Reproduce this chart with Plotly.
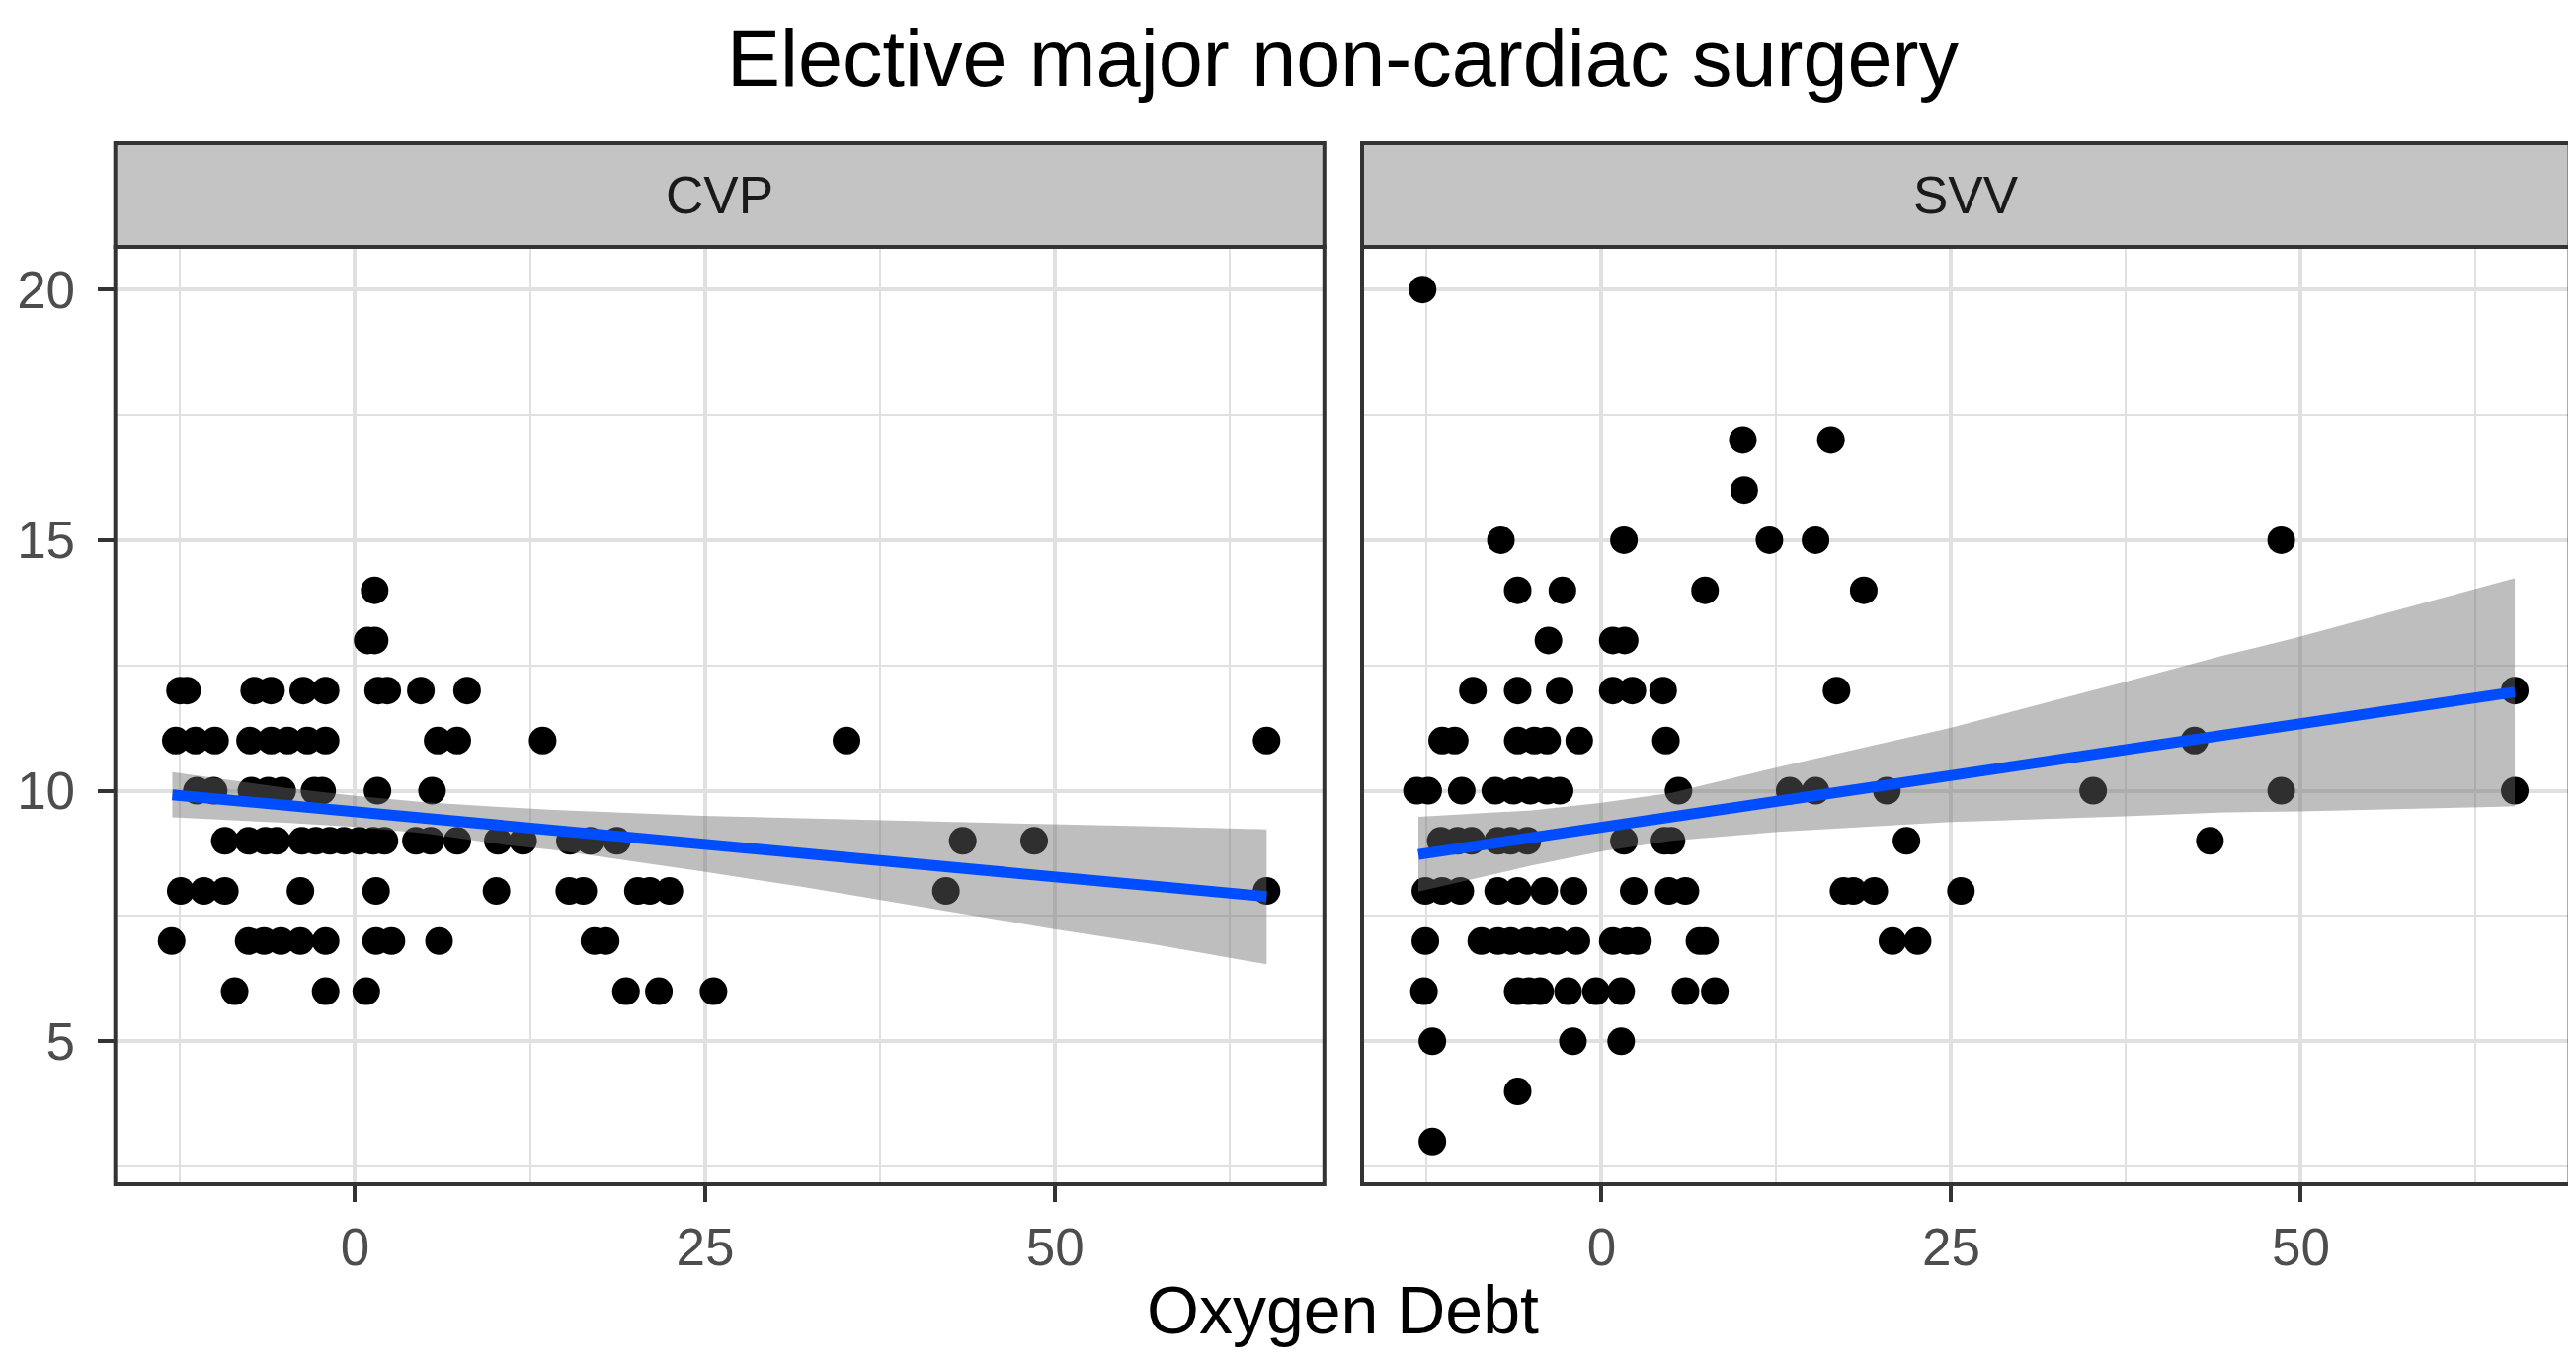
import numpy as np
import plotly.graph_objects as go

# ---------------- data ----------------
title_text = "Elective major non-cardiac surgery"
x_title = "Oxygen Debt"
facet_names = ["CVP", "SVV"]
x_ticks = [0, 25, 50]
y_ticks = [5, 10, 15, 20]

cvp_x = [1.4,
         0.9, 1.4,
         -12.5, -12.0, -7.2, -6.0, -3.7, -2.1, 1.65, 2.3, 4.7, 8.0,
         -12.8, -11.4, -10.0, -7.5, -6.0, -4.8, -3.4, -2.1, 5.9, 7.3, 13.4, 35.1, 65.1,
         -11.3, -10.1, -7.4, -6.2, -5.2, -2.9, -2.35, 1.6, 5.5,
         -9.3, -7.6, -6.4, -5.6, -3.8, -2.8, -1.8, -0.8, 0.3, 1.3, 2.1, 4.35, 5.4, 7.3,
         10.2, 12.0, 15.35, 16.8, 18.7, 43.4, 48.5,
         -12.45, -10.8, -9.3, -3.9, 1.5, 10.1, 15.3, 16.3, 20.2, 21.05, 22.45, 42.2, 65.1,
         -13.1, -7.6, -6.5, -5.3, -3.9, -2.1, 1.5, 2.6, 6.0, 17.1, 17.9,
         -8.6, -2.1, 0.8, 19.35, 21.7, 25.6]
cvp_y = [14,
         13, 13,
         12, 12, 12, 12, 12, 12, 12, 12, 12, 12,
         11, 11, 11, 11, 11, 11, 11, 11, 11, 11, 11, 11, 11,
         10, 10, 10, 10, 10, 10, 10, 10, 10,
         9, 9, 9, 9, 9, 9, 9, 9, 9, 9, 9, 9, 9, 9,
         9, 9, 9, 9, 9, 9, 9,
         8, 8, 8, 8, 8, 8, 8, 8, 8, 8, 8, 8, 8,
         7, 7, 7, 7, 7, 7, 7, 7, 7, 7, 7,
         6, 6, 6, 6, 6, 6]

svv_x = [-12.8,
         10.1, 16.4,
         10.2,
         -7.2, 1.6, 12.0, 15.3, 48.6,
         -6.0, -2.8, 7.4, 18.75,
         -3.8, 0.8, 1.65,
         -9.2, -6.0, -3.0, 0.8, 2.2, 4.4, 16.8, 65.3,
         -11.4, -10.5, -6.0, -4.8, -3.9, -1.6, 4.6, 42.4,
         -13.2, -12.4, -10.0, -7.6, -6.3, -5.1, -3.9, -3.0, 5.5, 13.45, 15.3, 20.4, 35.15, 48.6, 65.3,
         -11.5, -10.3, -9.3, -7.4, -6.5, -5.3, 1.6, 4.5, 5.0, 21.8, 43.5,
         -12.6, -11.4, -10.1, -7.4, -6.0, -4.1, -2.0, 2.3, 4.8, 6.0, 17.3, 18.0, 19.5, 25.7,
         -12.6, -8.6, -7.4, -6.5, -5.3, -4.3, -3.2, -1.8, 0.8, 1.8, 2.6, 7.0, 7.4, 20.8, 22.6,
         -12.7, -6.0, -5.2, -4.4, -2.4, -0.4, 1.4, 6.0, 8.1,
         -12.1, -2.05, 1.4,
         -6.0,
         -12.1]
svv_y = [20,
         17, 17,
         16,
         15, 15, 15, 15, 15,
         14, 14, 14, 14,
         13, 13, 13,
         12, 12, 12, 12, 12, 12, 12, 12,
         11, 11, 11, 11, 11, 11, 11, 11,
         10, 10, 10, 10, 10, 10, 10, 10, 10, 10, 10, 10, 10, 10, 10,
         9, 9, 9, 9, 9, 9, 9, 9, 9, 9, 9,
         8, 8, 8, 8, 8, 8, 8, 8, 8, 8, 8, 8, 8, 8,
         7, 7, 7, 7, 7, 7, 7, 7, 7, 7, 7, 7, 7, 7, 7,
         6, 6, 6, 6, 6, 6, 6, 6, 6,
         5, 5, 5,
         4,
         3]

# linear smooth (fit line and 95% band)
cvp_smooth_x = [-13.05, -5, 0, 5, 10.7, 14.2, 24.8, 32, 38.9, 49.7, 57, 65.1]
cvp_smooth_fit = [9.92, 9.71, 9.59, 9.46, 9.31, 9.22, 8.95, 8.77, 8.59, 8.31, 8.13, 7.89]
cvp_smooth_lo = [9.47, 9.36, 9.28, 9.15, 8.92, 8.82, 8.39, 8.08, 7.75, 7.25, 6.94, 6.54]
cvp_smooth_hi = [10.37, 10.06, 9.90, 9.77, 9.67, 9.62, 9.50, 9.45, 9.40, 9.33, 9.29, 9.23]

svv_smooth_x = [-13.1, -5, 0, 5, 12.6, 25, 37.4, 44.5, 49.9, 57, 65.3]
svv_smooth_fit = [8.73, 9.06, 9.27, 9.48, 9.79, 10.30, 10.81, 11.11, 11.33, 11.62, 11.97]
svv_smooth_lo = [7.99, 8.51, 8.79, 9.00, 9.18, 9.375, 9.49, 9.57, 9.59, 9.63, 9.69]
svv_smooth_hi = [9.48, 9.61, 9.76, 9.96, 10.47, 11.26, 12.17, 12.70, 13.07, 13.61, 14.24]

assert len(cvp_x) == len(cvp_y)
assert len(svv_x) == len(svv_y)

# ---------------- geometry ----------------
W, H = 2608, 1382
FONT = "Liberation Sans, Arial, Helvetica, sans-serif"
panel_x = [(108.7, 1332.8), (1371.0, 2593.6)]
panel_top, panel_bottom = 242.0, 1191.0
strip_top = 137.0

xdoms = [[a / W, b / W] for a, b in panel_x]
ydom = [1 - panel_bottom / H, 1 - panel_top / H]

all_x = cvp_x + svv_x
all_y = cvp_y + svv_y
xr = [min(all_x) - 0.05 * (max(all_x) - min(all_x)), max(all_x) + 0.05 * (max(all_x) - min(all_x))]
yr = [min(all_y) - 0.05 * (max(all_y) - min(all_y)), max(all_y) + 0.05 * (max(all_y) - min(all_y))]

fig = go.Figure()

series = [
    (cvp_x, cvp_y, cvp_smooth_x, cvp_smooth_fit, cvp_smooth_lo, cvp_smooth_hi),
    (svv_x, svv_y, svv_smooth_x, svv_smooth_fit, svv_smooth_lo, svv_smooth_hi),
]
for i, (xs, ys, gx, fit, lo, hi) in enumerate(series):
    xa = "x" if i == 0 else "x2"
    ya = "y" if i == 0 else "y2"
    fig.add_trace(go.Scatter(x=xs, y=ys, mode="markers", xaxis=xa, yaxis=ya,
                             marker=dict(size=28, color="black", line=dict(width=0)),
                             showlegend=False, hoverinfo="skip"))
    fig.add_trace(go.Scatter(x=list(gx) + list(gx)[::-1], y=list(hi) + list(lo)[::-1],
                             mode="lines", fill="toself", fillcolor="rgba(108,108,108,0.44)",
                             line=dict(width=0), xaxis=xa, yaxis=ya,
                             showlegend=False, hoverinfo="skip"))
    fig.add_trace(go.Scatter(x=gx, y=fit, mode="lines", xaxis=xa, yaxis=ya,
                             line=dict(color="#004CFF", width=11),
                             showlegend=False, hoverinfo="skip"))

grid_col = "#E0E0E0"
xaxis_common = dict(range=xr, tickvals=x_ticks, ticktext=[str(v) for v in x_ticks],
                    ticks="outside", ticklen=17, tickwidth=4, tickcolor="#333333",
                    tickfont=dict(size=53, color="#4D4D4D", family=FONT),
                    showgrid=True, gridcolor=grid_col, gridwidth=4,
                    minor=dict(dtick=12.5, tick0=-12.5, showgrid=True, gridcolor=grid_col,
                               gridwidth=2, ticklen=0),
                    zeroline=False, showline=False, fixedrange=True)
yaxis_common = dict(range=yr, tickvals=y_ticks, ticktext=[str(v) for v in y_ticks],
                    showgrid=True, gridcolor=grid_col, gridwidth=4,
                    minor=dict(dtick=2.5, tick0=2.5, showgrid=True, gridcolor=grid_col,
                               gridwidth=2, ticklen=0),
                    zeroline=False, showline=False, fixedrange=True, domain=ydom)

fig.update_layout(
    width=W, height=H,
    margin=dict(l=0, r=0, t=0, b=0),
    paper_bgcolor="white", plot_bgcolor="white",
    showlegend=False,
    font=dict(family=FONT, color="black"),
    xaxis=dict(domain=xdoms[0], anchor="y", **xaxis_common),
    xaxis2=dict(domain=xdoms[1], anchor="y2", **xaxis_common),
    yaxis=dict(anchor="x", ticks="outside", ticklen=17, tickwidth=4, tickcolor="#333333",
               tickfont=dict(size=53, color="#4D4D4D", family=FONT), ticklabelstandoff=12,
               **yaxis_common),
    yaxis2=dict(anchor="x2", matches="y", showticklabels=False, ticks="", **yaxis_common),
)

shapes = []
annotations = []
for i, (a, b) in enumerate(panel_x):
    shapes.append(dict(type="rect", xref="paper", yref="paper",
                       x0=a / W, x1=b / W, y0=1 - panel_top / H, y1=1 - strip_top / H,
                       fillcolor="#C4C4C4", line=dict(color="#333333", width=4), layer="above"))
    shapes.append(dict(type="rect", xref="paper", yref="paper",
                       x0=a / W, x1=b / W, y0=ydom[0], y1=ydom[1],
                       fillcolor="rgba(0,0,0,0)", line=dict(color="#333333", width=4), layer="above"))
    annotations.append(dict(text=facet_names[i], xref="paper", yref="paper",
                            x=(a + b) / 2 / W, y=1 - (strip_top + panel_top) / 2 / H,
                            xanchor="center", yanchor="middle", showarrow=False,
                            font=dict(size=53, color="#1A1A1A", family=FONT)))

center_x = (panel_x[0][0] + panel_x[1][1]) / 2 / W
annotations.append(dict(text=title_text, xref="paper", yref="paper", x=center_x, y=1 - 51 / H,
                        xanchor="center", yanchor="middle", showarrow=False,
                        font=dict(size=81, color="black", family=FONT)))
annotations.append(dict(text=x_title, xref="paper", yref="paper", x=center_x, y=1 - 1318 / H,
                        xanchor="center", yanchor="middle", showarrow=False,
                        font=dict(size=68, color="black", family=FONT)))

fig.update_layout(shapes=shapes, annotations=annotations)

fig.write_html("out.html")
